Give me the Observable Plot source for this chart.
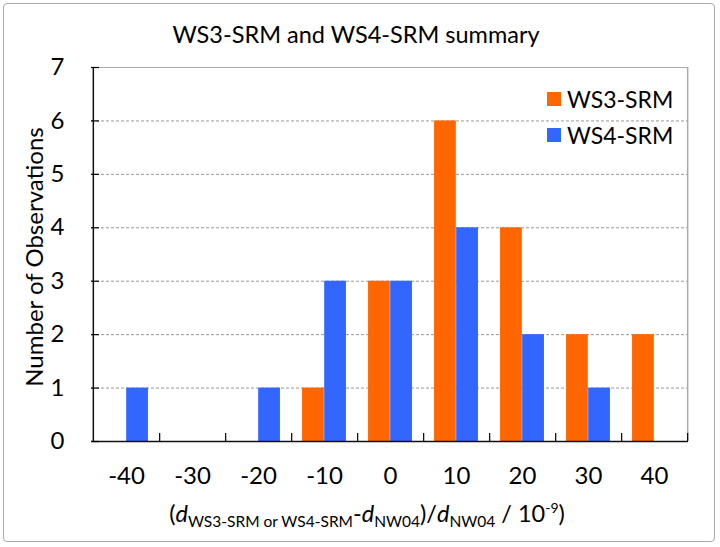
<!DOCTYPE html>
<html>
<head>
<meta charset="utf-8">
<script src="https://cdn.jsdelivr.net/npm/d3@7"></script>
<script src="https://cdn.jsdelivr.net/npm/@observablehq/plot@0.6"></script>
<style>
  html, body { margin: 0; padding: 0; background: #fff; }
  #wrap { position: relative; width: 720px; height: 547px; font-family: Lato, "Open Sans", sans-serif; color: #000; overflow: hidden; }
  #border { position: absolute; left: 3px; top: 3px; width: 712px; height: 539px; border: 1.5px solid #aaa; border-radius: 4px; box-sizing: border-box; }
  #chart { position: absolute; left: 0; top: 0; }
  #title { position: absolute; left: 0; width: 712px; top: 20px; text-align: center; font-size: 23.5px; white-space: nowrap; }
  #ylabel { position: absolute; left: 33px; top: 257px; transform: translate(-50%, -50%) rotate(-90deg); font-size: 24px; white-space: nowrap; }
  #xlabel { position: absolute; left: 367px; top: 499px; transform: translateX(-50%); font-size: 23.5px; white-space: nowrap; }
  #xlabel sub { font-size: 15.5px; vertical-align: -5px; }
  #xlabel sup { font-size: 14px; vertical-align: 9px; }
  .leg { position: absolute; display: flex; align-items: center; font-size: 23px; white-space: nowrap; }
  .sw { width: 14px; height: 14px; margin-right: 6px; }
</style>
</head>
<body>
<div id="wrap">
  <div id="border"></div>
  <div id="chart"></div>
  <div id="title"></div>
  <div id="ylabel"></div>
  <div id="xlabel"></div>
  <div id="legend"></div>
</div>
<script>
const categories = ["-40", "-30", "-20", "-10", "0", "10", "20", "30", "40"];
const ws3Values = [0, 0, 0, 1, 3, 6, 4, 2, 2];
const ws4Values = [1, 0, 1, 3, 3, 4, 2, 1, 0];
const yTicks = [0, 1, 2, 3, 4, 5, 6, 7];
const seriesNames = ["WS3-SRM", "WS4-SRM"];
const seriesColors = ["#FF6600", "#3366FF"];
const titleText = "WS3-SRM and WS4-SRM summary";
const yLabelText = "Number of Observations";

const W = 720, H = 547;
const mL = 91, mR = 32, mT = 67, mB = 106;
const bw = (W - mL - mR) / categories.length;

const ws3 = categories.map((c, i) => ({cat: c, v: ws3Values[i]}));
const ws4 = categories.map((c, i) => ({cat: c, v: ws4Values[i]}));

const chart = Plot.plot({
  width: W, height: H,
  marginLeft: mL, marginRight: mR, marginTop: mT, marginBottom: mB,
  style: {fontFamily: "Lato, 'Open Sans', sans-serif", background: "transparent"},
  x: {domain: categories, padding: 0, label: null},
  y: {domain: [0, 7], label: null},
  marks: [
    Plot.gridY([1, 2, 3, 4, 5, 6], {stroke: "#999", strokeOpacity: 1, strokeDasharray: "3,2"}),
    Plot.ruleY([7], {stroke: "#aaa", strokeWidth: 1.2}),
    Plot.ruleX([categories[categories.length - 1]], {dx: bw / 2, stroke: "#aaa", strokeWidth: 1.5}),
    Plot.barY(ws3, {x: "cat", y: "v", fill: seriesColors[0], insetLeft: bw / 6, insetRight: bw / 2}),
    Plot.barY(ws4, {x: "cat", y: "v", fill: seriesColors[1], insetLeft: bw / 2, insetRight: bw / 6}),
    Plot.ruleY([0], {stroke: "#111", strokeWidth: 1.5}),
    Plot.ruleX([categories[0]], {dx: -bw / 2, stroke: "#111", strokeWidth: 1.5}),
    Plot.axisY({ticks: yTicks, tickSize: 0, tickPadding: 27, fontSize: 24, tickFormat: d => String(d)}),
    Plot.axisY({ticks: yTicks, tickSize: 8, dx: 8, strokeWidth: 1.2, tickFormat: () => ""}),
    Plot.axisX({tickSize: 0, tickPadding: 25, fontSize: 24}),
    Plot.axisX({tickSize: 8, dy: -8, dx: bw / 2, strokeWidth: 1.2, tickFormat: () => ""})
  ]
});
document.getElementById("chart").appendChild(chart);

document.getElementById("title").textContent = titleText;
document.getElementById("ylabel").textContent = yLabelText;
document.getElementById("xlabel").innerHTML =
  "(<i>d</i><sub>WS3-SRM or WS4-SRM</sub>-<i>d</i><sub>NW04</sub>)/<i>d</i><sub>NW04</sub> / 10<sup>-9</sup>)";

const legend = document.getElementById("legend");
seriesNames.forEach((name, i) => {
  const row = document.createElement("div");
  row.className = "leg";
  row.style.left = "547px";
  row.style.top = (85 + i * 36) + "px";
  const sw = document.createElement("div");
  sw.className = "sw";
  sw.style.background = seriesColors[i];
  const t = document.createElement("span");
  t.textContent = name;
  row.appendChild(sw);
  row.appendChild(t);
  legend.appendChild(row);
});
</script>
</body>
</html>
